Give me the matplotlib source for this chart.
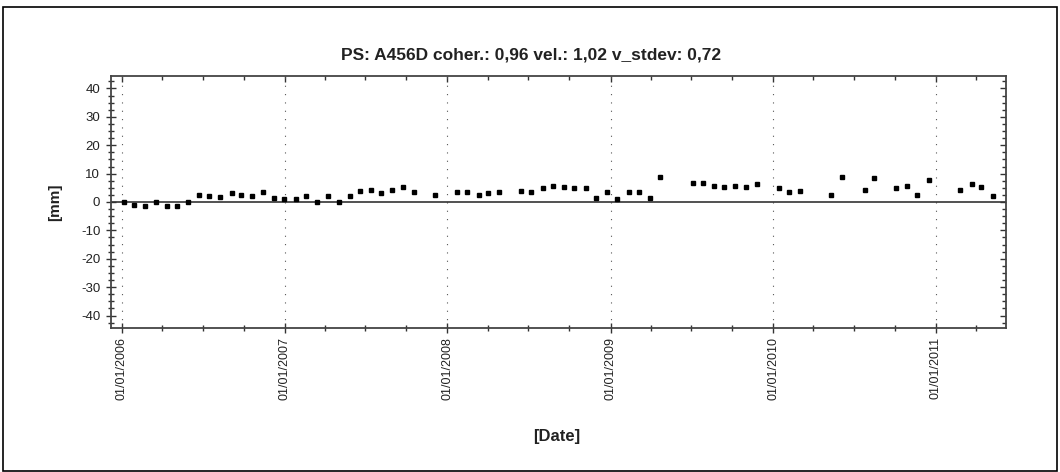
import matplotlib
matplotlib.use("Agg")
import matplotlib.pyplot as plt
import matplotlib.dates as mdates
import numpy as np
from matplotlib.ticker import MultipleLocator

plt.rcParams['font.family'] = ['Liberation Sans', 'DejaVu Sans']
plt.rcParams['axes.unicode_minus'] = False

title = "PS: A456D coher.: 0,96 vel.: 1,02 v_stdev: 0,72"
dates = [
    "2006-01-06", "2006-01-29", "2006-02-22", "2006-03-18", "2006-04-12", "2006-05-05",
    "2006-05-30", "2006-06-22", "2006-07-16", "2006-08-09", "2006-09-04", "2006-09-26",
    "2006-10-21", "2006-11-13", "2006-12-08", "2006-12-31", "2007-01-26", "2007-02-17",
    "2007-03-14", "2007-04-09", "2007-05-02", "2007-05-27", "2007-06-19", "2007-07-14",
    "2007-08-06", "2007-08-31", "2007-09-23", "2007-10-18", "2007-12-05", "2008-01-23",
    "2008-02-14", "2008-03-11", "2008-04-02", "2008-04-27", "2008-06-15", "2008-07-07",
    "2008-08-02", "2008-08-25", "2008-09-19", "2008-10-12", "2008-11-06", "2008-11-29",
    "2008-12-24", "2009-01-16", "2009-02-11", "2009-03-05", "2009-03-30", "2009-04-21",
    "2009-07-05", "2009-07-28", "2009-08-22", "2009-09-13", "2009-10-08", "2009-10-31",
    "2009-11-25", "2010-01-13", "2010-02-05", "2010-03-01", "2010-05-11", "2010-06-05",
    "2010-07-25", "2010-08-16", "2010-10-03", "2010-10-27", "2010-11-20", "2010-12-16",
    "2011-02-23", "2011-03-22", "2011-04-13", "2011-05-08",
]
displacement_mm = [
    0.0, -0.9, -1.3, 0.0, -1.3, -1.3,
    0.0, 2.6, 2.2, 1.8, 3.1, 2.6,
    2.2, 3.6, 1.3, 0.9, 0.9, 2.2,
    0.0, 2.2, 0.0, 2.2, 3.9, 4.4,
    3.1, 4.4, 5.3, 3.6, 2.6, 3.6,
    3.6, 2.6, 3.1, 3.6, 3.9, 3.6,
    4.9, 5.8, 5.3, 4.9, 4.9, 1.3,
    3.6, 0.9, 3.6, 3.6, 1.3, 8.9,
    6.6, 6.6, 5.8, 5.3, 5.8, 5.3,
    6.2, 4.9, 3.6, 3.9, 2.6, 8.9,
    4.4, 8.4, 4.9, 5.8, 2.6, 7.6,
    4.4, 6.2, 5.3, 2.2,
]
year_lines = ["2006-01-01", "2007-01-01", "2008-01-01", "2009-01-01", "2010-01-01", "2011-01-01"]
x_limits = ["2005-12-07", "2011-06-07"]
y_limits = [-44.4, 44.4]

d = np.array(dates, dtype="datetime64[D]").astype("O")
yl = np.array(year_lines, dtype="datetime64[D]").astype("O")
xl = np.array(x_limits, dtype="datetime64[D]").astype("O")

fig = plt.figure(figsize=(10.6, 4.72), dpi=100)
# outer frame
fig.patches.append(plt.Rectangle((3 / 1060, 1 - 471 / 472), 1054 / 1060, 464 / 472,
                                 transform=fig.transFigure, fill=False,
                                 edgecolor="black", linewidth=1.2))

ax = fig.add_axes([110.7 / 1060, 1 - 328 / 472, (1006 - 110.7) / 1060, (328 - 76) / 472])
ax.set_xlim(xl[0], xl[1])
ax.set_ylim(*y_limits)

for x in yl:
    ax.axvline(x, color="#555555", linewidth=0.8, linestyle=(0, (1, 6.5)), zorder=1)
ax.axhline(0, color="#333333", linewidth=1.2, zorder=2)
ax.plot(d, displacement_mm, linestyle="none", marker="s", markersize=3.2,
        color="black", zorder=3)

for s in ax.spines.values():
    s.set_color("#444444")
    s.set_linewidth(1.3)

ax.yaxis.set_major_locator(MultipleLocator(10))
ax.yaxis.set_minor_locator(MultipleLocator(2.5))
ax.xaxis.set_major_locator(mdates.YearLocator())
ax.xaxis.set_minor_locator(mdates.MonthLocator(bymonth=[4, 7, 10]))
ax.xaxis.set_major_formatter(mdates.DateFormatter("%d/%m/%Y"))

ax.tick_params(axis="y", which="major", direction="inout", length=7, width=1.0,
               labelsize=9.5, pad=4, colors="#333333", labelcolor="#222222")
ax.tick_params(axis="y", which="minor", direction="inout", length=4.5, width=1.0,
               colors="#333333")
ax.tick_params(axis="x", which="major", direction="inout", length=6.5, width=1.0,
               labelsize=9, pad=3, colors="#333333", labelcolor="#222222",
               labelrotation=90)
ax.tick_params(axis="x", which="minor", direction="inout", length=4.5, width=1.0,
               colors="#333333")

# right and top inward ticks
sy = ax.secondary_yaxis("right")
sy.yaxis.set_major_locator(MultipleLocator(10))
sy.yaxis.set_minor_locator(MultipleLocator(2.5))
sy.tick_params(which="major", direction="in", length=4.5, width=1.0, colors="#333333",
               labelright=False)
sy.tick_params(which="minor", direction="in", length=3, width=1.0, colors="#333333")
sy.spines["right"].set_visible(False)
sx = ax.secondary_xaxis("top")
sx.xaxis.set_major_locator(mdates.YearLocator())
sx.xaxis.set_minor_locator(mdates.MonthLocator(bymonth=[4, 7, 10]))
sx.tick_params(which="major", direction="in", length=4, width=1.0, colors="#333333",
               labeltop=False)
sx.tick_params(which="minor", direction="in", length=3, width=1.0, colors="#333333")
sx.spines["top"].set_visible(False)

fig.text(531 / 1060, 1 - 55 / 472, title, ha="center", va="center",
         fontsize=12.5, fontweight="bold", color="#222222")
fig.text(55 / 1060, 1 - 202 / 472, "[mm]", ha="center", va="center", rotation=90,
         fontsize=11, fontweight="bold", color="#222222")
fig.text(557 / 1060, 1 - 437 / 472, "[Date]", ha="center", va="center",
         fontsize=12, fontweight="bold", color="#222222")

fig.savefig("out.png", dpi=100)
